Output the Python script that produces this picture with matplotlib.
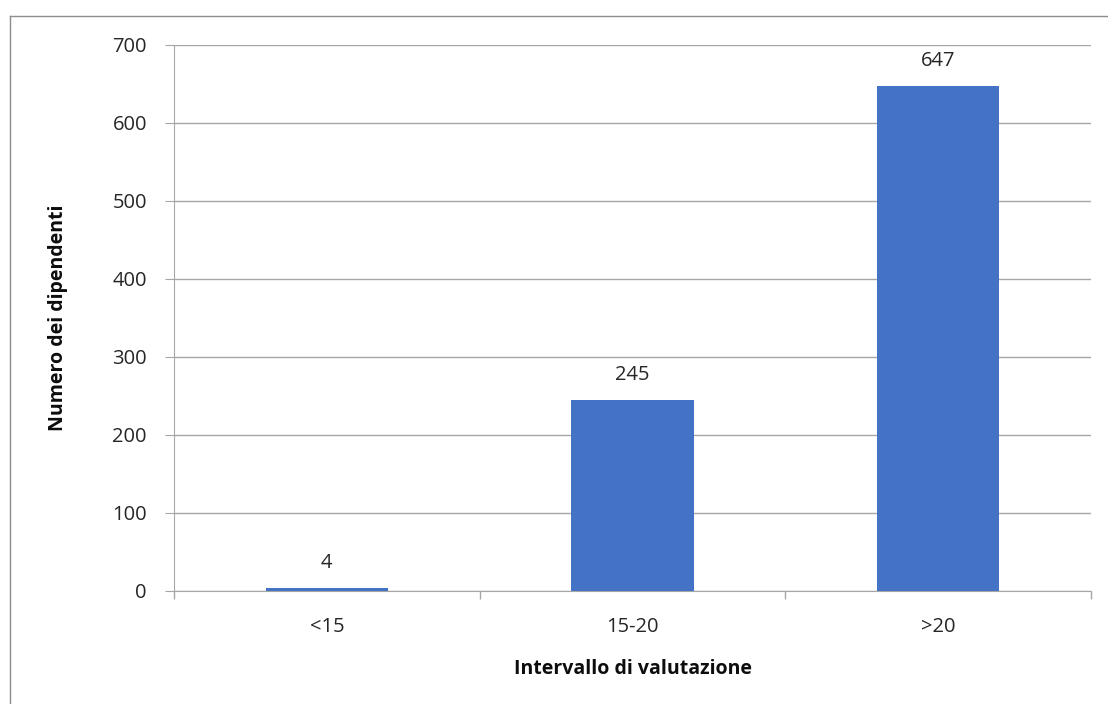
import matplotlib.pyplot as plt
from matplotlib.lines import Line2D
import numpy as np

# data
categorie = ['<15', '15-20', '>20']
dipendenti = [4, 245, 647]
yticks = [0, 100, 200, 300, 400, 500, 600, 700]

plt.rcParams['font.family'] = ['Open Sans', 'DejaVu Sans']

W, H = 1108, 704
fig = plt.figure(figsize=(W / 100, H / 100), dpi=100)
ax = fig.add_axes([174 / W, 1 - 591 / H, (1091 - 174) / W, (591 - 45) / H])

x = np.arange(len(categorie))
ax.bar(x, dipendenti, width=0.4, color='#4472C4', zorder=3)
for xi, v in zip(x, dipendenti):
    ax.annotate(str(v), (xi, v), xytext=(0, 11), textcoords='offset points',
                ha='center', va='bottom', fontsize=14.5, color='#262626')

ax.set_xlim(-0.5, len(categorie) - 0.5)
ax.set_ylim(0, 700)
ax.set_yticks(yticks)
ax.set_xticks(x)
ax.set_xticklabels(categorie)
ax.set_xticks(np.arange(-0.5, len(categorie)), minor=True)
ax.tick_params(axis='x', which='major', length=0, pad=19, labelsize=14.5, labelcolor='#262626')
ax.tick_params(axis='x', which='minor', length=5.8, color='#A6A6A6', width=1)
ax.tick_params(axis='y', length=6.5, color='#A6A6A6', pad=13, labelsize=14.5, labelcolor='#262626')

ax.grid(axis='y', color='#A6A6A6', linewidth=1, zorder=0)
for s in ['top', 'right']:
    ax.spines[s].set_visible(False)
ax.spines['left'].set_color('#A6A6A6')
ax.spines['bottom'].set_color('#A6A6A6')

ax.set_xlabel('Intervallo di valutazione', fontsize=14, fontweight='bold', color='#0D0D0D')
ax.set_ylabel('Numero dei dipendenti', fontsize=14, fontweight='bold', color='#0D0D0D')
ax.xaxis.set_label_coords(0.5, (591 - 659) / 546)
ax.yaxis.set_label_coords((68 - 174) / 917, 0.5)

# chart border (only left and top edges visible)
fig.add_artist(Line2D([9.5 / W, 9.5 / W], [0, 1 - 15.5 / H], transform=fig.transFigure, color='#8C8C8C', lw=1))
fig.add_artist(Line2D([9.5 / W, 1], [1 - 15.5 / H, 1 - 15.5 / H], transform=fig.transFigure, color='#8C8C8C', lw=1))

fig.savefig('out.png', dpi=100)
